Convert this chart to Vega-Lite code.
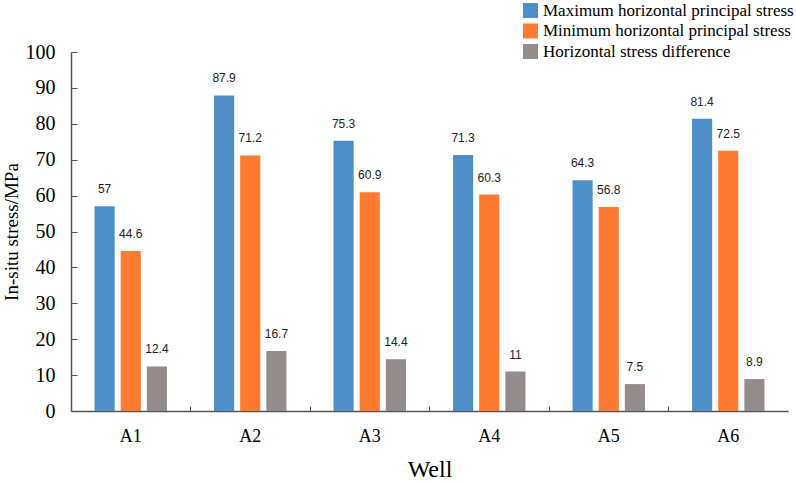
{
  "$schema": "https://vega.github.io/schema/vega-lite/v5.json",
  "width": 717,
  "height": 359,
  "autosize": {"type": "none"},
  "padding": {"left": 71, "top": 52, "right": 8, "bottom": 73},
  "background": "white",
  "data": {
    "values": [
      {"well": "A1", "series": "Maximum horizontal principal stress", "stress": 57},
      {"well": "A1", "series": "Minimum horizontal principal stress", "stress": 44.6},
      {"well": "A1", "series": "Horizontal stress difference", "stress": 12.4},
      {"well": "A2", "series": "Maximum horizontal principal stress", "stress": 87.9},
      {"well": "A2", "series": "Minimum horizontal principal stress", "stress": 71.2},
      {"well": "A2", "series": "Horizontal stress difference", "stress": 16.7},
      {"well": "A3", "series": "Maximum horizontal principal stress", "stress": 75.3},
      {"well": "A3", "series": "Minimum horizontal principal stress", "stress": 60.9},
      {"well": "A3", "series": "Horizontal stress difference", "stress": 14.4},
      {"well": "A4", "series": "Maximum horizontal principal stress", "stress": 71.3},
      {"well": "A4", "series": "Minimum horizontal principal stress", "stress": 60.3},
      {"well": "A4", "series": "Horizontal stress difference", "stress": 11},
      {"well": "A5", "series": "Maximum horizontal principal stress", "stress": 64.3},
      {"well": "A5", "series": "Minimum horizontal principal stress", "stress": 56.8},
      {"well": "A5", "series": "Horizontal stress difference", "stress": 7.5},
      {"well": "A6", "series": "Maximum horizontal principal stress", "stress": 81.4},
      {"well": "A6", "series": "Minimum horizontal principal stress", "stress": 72.5},
      {"well": "A6", "series": "Horizontal stress difference", "stress": 8.9}
    ]
  },
  "encoding": {
    "x": {
      "field": "well",
      "type": "nominal",
      "title": "Well",
      "scale": {"paddingInner": 0, "paddingOuter": 0},
      "axis": {
        "labelAngle": 0,
        "labelFont": "Liberation Serif",
        "labelFontSize": 18,
        "labelColor": "black",
        "labelPadding": 21,
        "titleFont": "Liberation Serif",
        "titleFontSize": 24,
        "titleFontWeight": "normal",
        "titleColor": "black",
        "titlePadding": 12,
        "bandPosition": 0,
        "tickSize": -5,
        "tickColor": "#555555",
        "domainColor": "#555555",
        "domainWidth": 1.5
      }
    },
    "xOffset": {
      "field": "series",
      "type": "nominal",
      "sort": ["Maximum horizontal principal stress", "Minimum horizontal principal stress", "Horizontal stress difference"],
      "scale": {"paddingInner": 0.23, "paddingOuter": 0.9}
    },
    "y": {
      "field": "stress",
      "type": "quantitative",
      "title": "In-situ stress/MPa",
      "scale": {"domain": [0, 100]},
      "axis": {
        "values": [0, 10, 20, 30, 40, 50, 60, 70, 80, 90, 100],
        "grid": false,
        "labelFont": "Liberation Serif",
        "labelFontSize": 20,
        "labelColor": "black",
        "labelPadding": 22,
        "titleFont": "Liberation Serif",
        "titleFontSize": 19,
        "titleFontWeight": "normal",
        "titleColor": "black",
        "titlePadding": 4,
        "tickSize": -6,
        "tickColor": "#555555",
        "domainColor": "#555555",
        "domainWidth": 1.5
      }
    }
  },
  "layer": [
    {
      "mark": {"type": "bar"},
      "encoding": {
        "color": {
          "field": "series",
          "type": "nominal",
          "sort": ["Maximum horizontal principal stress", "Minimum horizontal principal stress", "Horizontal stress difference"],
          "scale": {
            "domain": ["Maximum horizontal principal stress", "Minimum horizontal principal stress", "Horizontal stress difference"],
            "range": ["#4f8fc8", "#fe7a30", "#938c8b"]
          },
          "legend": {
            "title": null,
            "orient": "none",
            "legendX": 451,
            "legendY": -50,
            "padding": 0,
            "symbolType": "square",
            "symbolSize": 225,
            "symbolStrokeWidth": 0,
            "rowPadding": 2.5,
            "labelFont": "Liberation Serif",
            "labelFontSize": 17,
            "labelColor": "black",
            "labelLimit": 320,
            "labelOffset": 4
          }
        }
      }
    },
    {
      "mark": {"type": "text", "baseline": "bottom", "dy": -10, "font": "Liberation Sans", "fontSize": 12, "letterSpacing": 1, "color": "#222222"},
      "encoding": {
        "text": {"field": "stress", "type": "quantitative"}
      }
    }
  ],
  "config": {
    "view": {"stroke": null}
  }
}
